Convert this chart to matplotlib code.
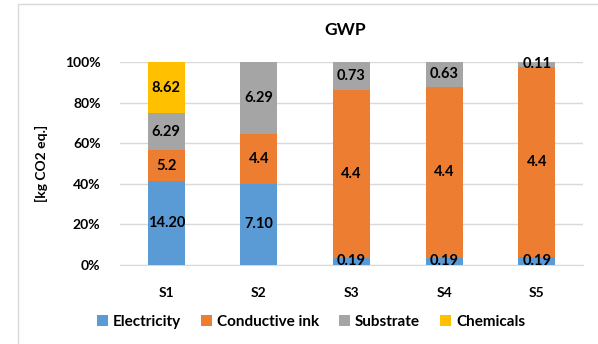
import matplotlib
matplotlib.use("Agg")
import matplotlib.pyplot as plt
from matplotlib.patches import Rectangle
import numpy as np

categories = ["S1", "S2", "S3", "S4", "S5"]
series_names = ["Electricity", "Conductive ink", "Substrate", "Chemicals"]
electricity = [14.20, 7.10, 0.19, 0.19, 0.19]
conductive_ink = [5.2, 4.4, 4.4, 4.4, 4.4]
substrate = [6.29, 6.29, 0.73, 0.63, 0.11]
chemicals = [8.62, 0, 0, 0, 0]
electricity_labels = ["14.20", "7.10", "0.19", "0.19", "0.19"]
ink_labels = ["5.2", "4.4", "4.4", "4.4", "4.4"]
substrate_labels = ["6.29", "6.29", "0.73", "0.63", "0.11"]
chemicals_labels = ["8.62", "", "", "", ""]
yticks = [0, 20, 40, 60, 80, 100]
ytick_labels = ["0%", "20%", "40%", "60%", "80%", "100%"]

colors = ["#5B9BD5", "#ED7D31", "#A5A5A5", "#FFC000"]

plt.rcParams['font.family'] = ['Lato', 'DejaVu Sans']

W, H = 598, 344
fig = plt.figure(figsize=(W / 100, H / 100), dpi=100)
fig.patch.set_facecolor("white")

# chart border
fig.add_artist(Rectangle((18 / W, -0.1), 1.2, 1.1 - 4 / H, transform=fig.transFigure,
                         fill=False, edgecolor="#d9d9d9", linewidth=1.0))

ax = fig.add_axes([120 / W, 1 - 265 / H, 463 / W, 203 / H])

data = np.array([electricity, conductive_ink, substrate, chemicals], dtype=float)
labels = [electricity_labels, ink_labels, substrate_labels, chemicals_labels]
totals = data.sum(axis=0)
pct = data / totals * 100

x = np.arange(len(categories))
bottom = np.zeros(len(categories))
handles = []
for i, name in enumerate(series_names):
    bars = ax.bar(x, pct[i], 0.4, bottom=bottom, color=colors[i], label=name, zorder=3)
    handles.append(bars)
    for j in range(len(categories)):
        if labels[i][j]:
            ax.text(x[j], bottom[j] + pct[i][j] / 2, labels[i][j], ha="center", va="center",
                    fontsize=10.5, fontweight="bold", color="black", zorder=4)
    bottom += pct[i]

ax.set_xlim(-0.5, len(categories) - 0.5)
ax.set_ylim(0, 100)
ax.set_yticks(yticks)
ax.set_yticklabels(ytick_labels, fontsize=10, fontweight="bold")
ax.set_xticks(x)
ax.set_xticklabels(categories, fontsize=10, fontweight="bold")
ax.tick_params(axis="both", length=0)
ax.tick_params(axis="y", pad=14)
ax.tick_params(axis="x", pad=16)
for lab in ax.get_xticklabels() + ax.get_yticklabels():
    lab.set_color("black")
ax.grid(axis="y", color="#d9d9d9", linewidth=1.0, zorder=0)
for s in ["top", "right", "left"]:
    ax.spines[s].set_visible(False)
ax.spines["bottom"].set_color("#d9d9d9")

ax.set_ylabel("[kg CO2 eq.]", fontsize=10, fontweight="bold", labelpad=12)

fig.text(345 / W, 1 - 30 / H, "GWP", ha="center", va="center", fontsize=12.5, fontweight="bold")

leg = fig.legend(handles=handles, labels=series_names, loc="center", bbox_to_anchor=(311 / W, 1 - 322 / H),
                 ncol=4, frameon=False, handlelength=0.7, handleheight=0.7,
                 handletextpad=0.35, columnspacing=1.3, prop={"weight": "bold", "size": 11})

fig.savefig("out.png", dpi=100, facecolor="white")
